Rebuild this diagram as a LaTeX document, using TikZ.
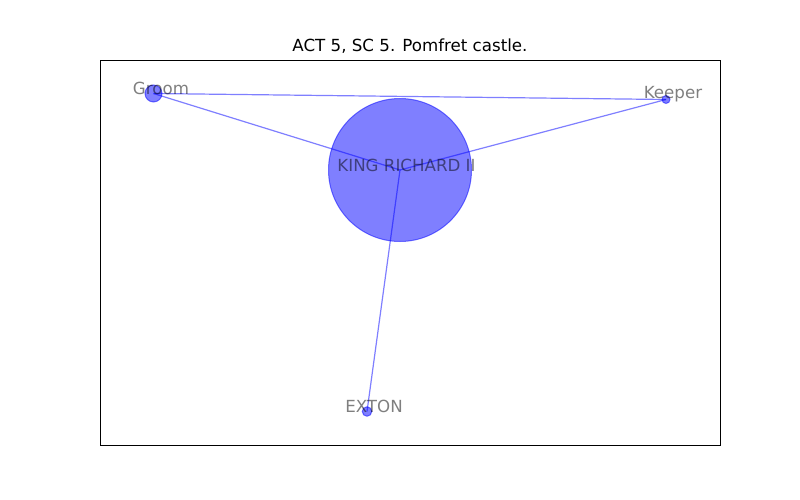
\documentclass[tikz,border=0pt]{standalone}
\usepackage{fontspec}
\setmainfont{DejaVu Sans}
\begin{document}
\begin{tikzpicture}[x=1pt,y=-1pt,
  person/.style={circle,inner sep=0pt,fill=blue,draw=blue,opacity=0.5,line width=1pt},
  link/.style={draw=blue,opacity=0.5,line width=1.2pt},
  lbl/.style={text=black,text opacity=0.5,font=\fontsize{16.67}{20}\selectfont,inner sep=0pt,anchor=center}]
\useasboundingbox (0,0) rectangle (800,500);
\fill[white] (0,0) rectangle (800,500);
\node[font=\fontsize{16.67}{20}\selectfont,inner sep=0pt] (title) at (410,46) {ACT 5, SC 5. Pomfret castle.};
\draw[line width=0.8pt] (100,60) rectangle (720,445);
\coordinate (gP) at (153.5,93.5);
\coordinate (kP) at (666,99.5);
\coordinate (rP) at (400,170);
\coordinate (eP) at (367,411.5);
\draw[link] (gP) -- (kP);
\draw[link] (gP) -- (rP);
\draw[link] (rP) -- (kP);
\draw[link] (rP) -- (eP);
\node[person,minimum size=143pt] (r) at (rP) {};
\node[person,minimum size=17pt] (g) at (gP) {};
\node[person,minimum size=8pt] (k) at (kP) {};
\node[person,minimum size=9.5pt] (e) at (eP) {};
\node[lbl] (rl) at (406.5,165) {KING RICHARD II};
\node[lbl] (gl) at (161,88) {Groom};
\node[lbl] (kl) at (673,94.5) {Keeper};
\node[lbl] (el) at (374,406) {EXTON};
\end{tikzpicture}
\end{document}
